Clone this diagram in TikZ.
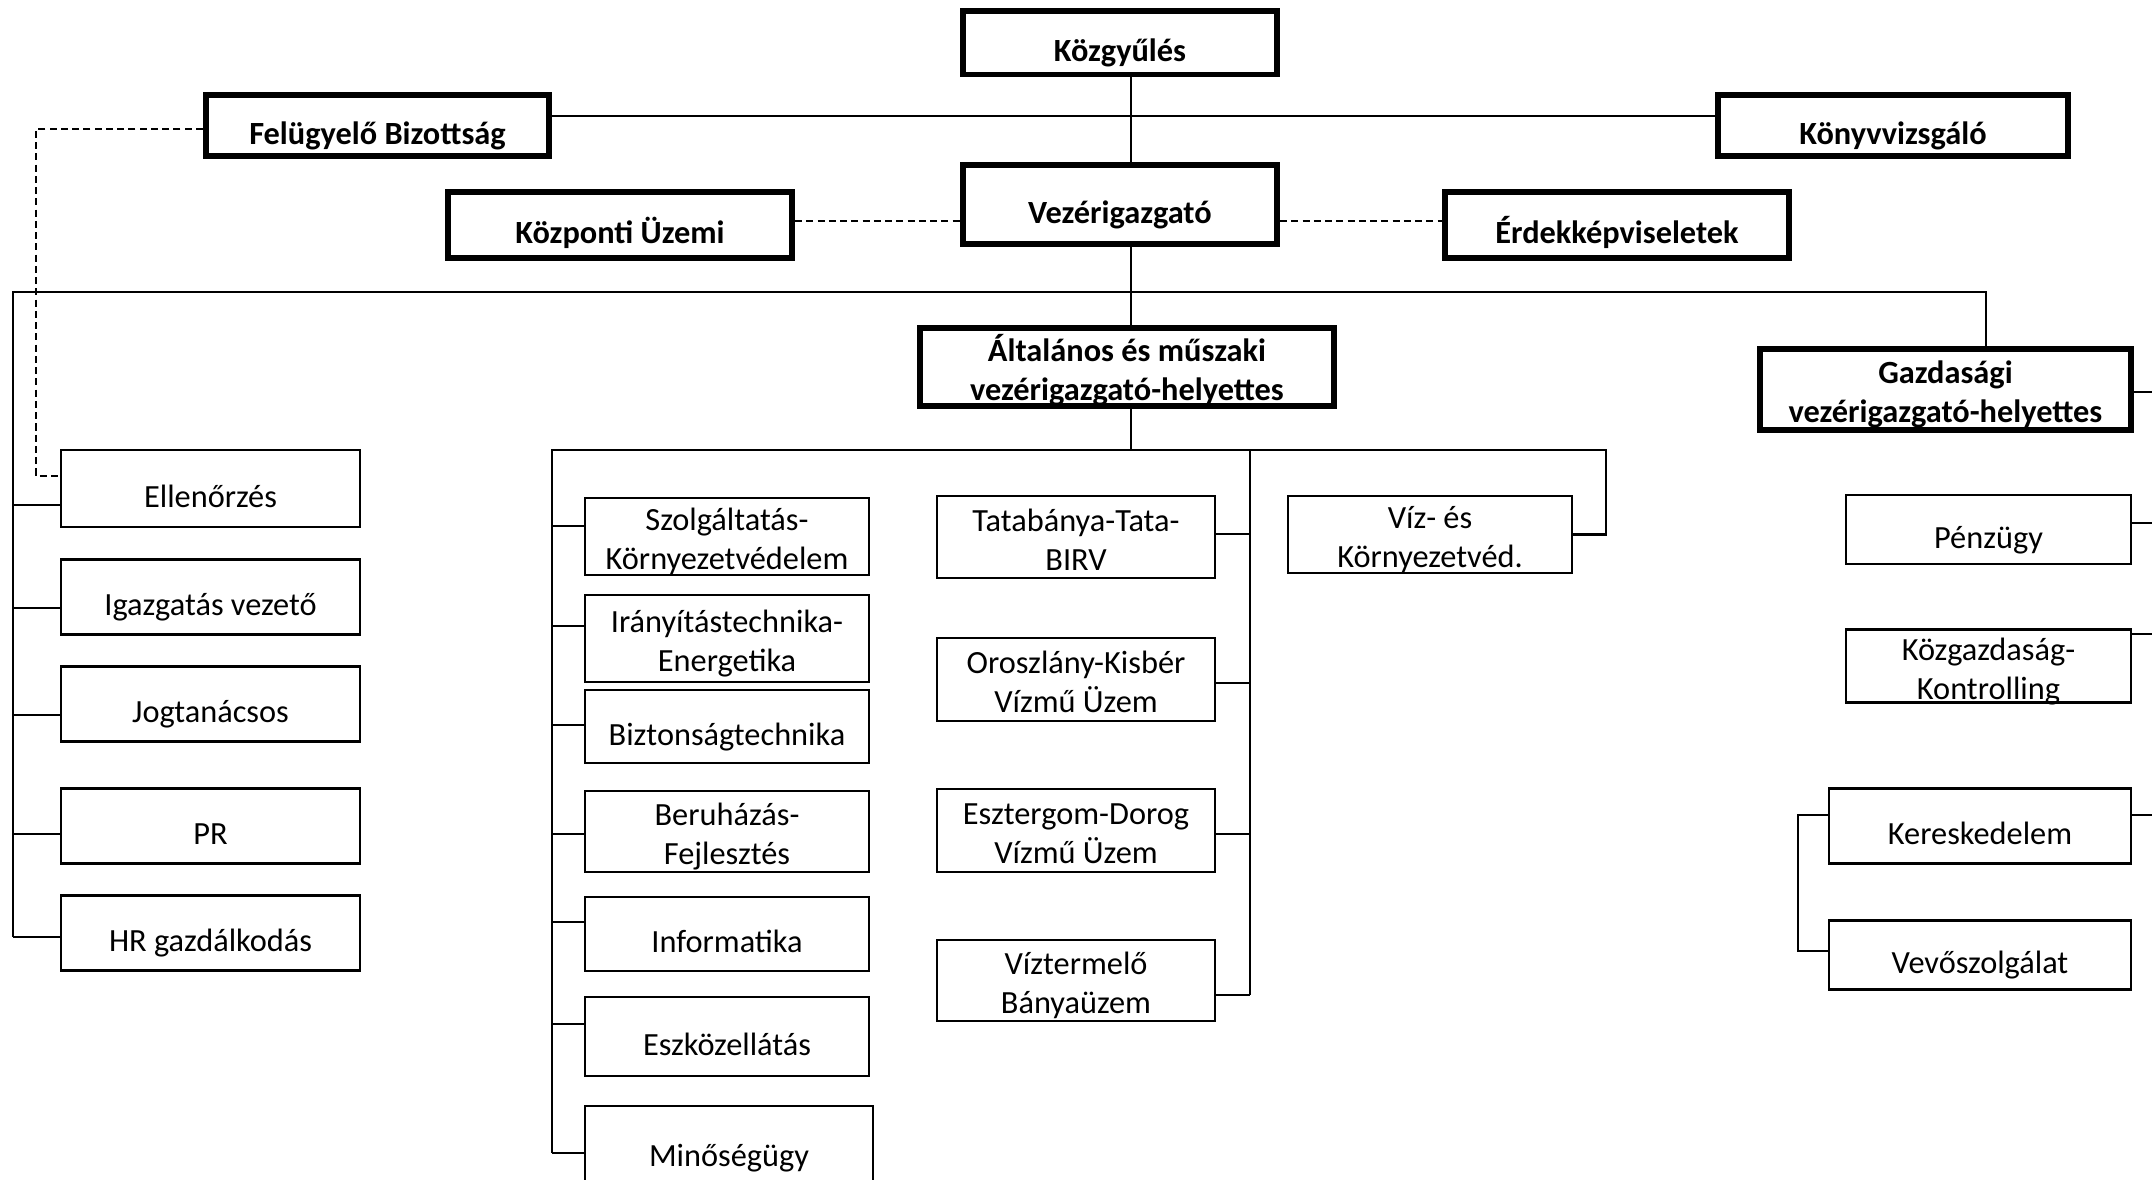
\documentclass[tikz,border=0pt]{standalone}
\usepackage{fontspec}
\setmainfont{Carlito}

\begin{document}
\begin{tikzpicture}[x=0.01cm, y=-0.01cm,
  unit/.style={draw, line width=0.6pt, align=center, inner sep=0pt,
    font=\fontsize{9.2}{11.2}\selectfont},
  head/.style={unit, line width=1.7pt, font=\bfseries\fontsize{9.2}{11.2}\selectfont},
  oneline/.style={text height=10.8pt, text depth=0pt},
  twoline/.style={text height=19pt, text depth=0pt},
  link/.style={line width=0.6pt},
  dlink/.style={link, dash pattern=on 2pt off 1.2pt}]
\useasboundingbox (0,0) rectangle (2152,1180);

% vezetes
\node[head, oneline, minimum width=3.14cm, minimum height=0.63cm] (kozgy) at (1120,43) {Közgyűlés};
\node[head, oneline, minimum width=3.43cm, minimum height=0.61cm] (fb) at (377.5,125.5) {Felügyelő Bizottság};
\node[head, oneline, minimum width=3.50cm, minimum height=0.61cm] (kv) at (1893,125.5) {Könyvvizsgáló};
\node[head, oneline, minimum width=3.14cm, minimum height=0.79cm] (vig) at (1120,204.5) {Vezérigazgató};
\node[head, oneline, minimum width=3.44cm, minimum height=0.66cm] (kuz) at (620,225) {Központi Üzemi};
\node[head, oneline, minimum width=3.44cm, minimum height=0.66cm] (erd) at (1617,225) {Érdekképviseletek};
\node[head, twoline, minimum width=4.14cm, minimum height=0.78cm] (alt) at (1127,367) {Általános és műszaki\\vezérigazgató-helyettes};
\node[head, twoline, minimum width=3.71cm, minimum height=0.81cm] (gazd) at (1945.5,389.5) {Gazdasági\\vezérigazgató-helyettes};

% bal oszlop
\node[unit, oneline, minimum width=2.99cm, minimum height=0.77cm] (ell) at (210.5,488.5) {Ellenőrzés};
\node[unit, oneline, minimum width=2.99cm, minimum height=0.75cm] (igv) at (210.5,597) {Igazgatás vezető};
\node[unit, oneline, minimum width=2.99cm, minimum height=0.75cm] (jog) at (210.5,704) {Jogtanácsos};
\node[unit, oneline, minimum width=2.99cm, minimum height=0.75cm] (pr) at (210.5,826) {PR};
\node[unit, oneline, minimum width=2.99cm, minimum height=0.75cm] (hr) at (210.5,933) {HR gazdálkodás};

% muszaki oszlop
\node[unit, twoline, minimum width=2.84cm, minimum height=0.77cm] (szolg) at (727,536.5) {Szolgáltatás-\\Környezetvédelem};
\node[unit, twoline, minimum width=2.84cm, minimum height=0.87cm] (iran) at (727,638.5) {Irányítástechnika-\\Energetika};
\node[unit, oneline, minimum width=2.84cm, minimum height=0.73cm] (bizt) at (727,726.5) {Biztonságtechnika};
\node[unit, twoline, minimum width=2.84cm, minimum height=0.81cm] (beru) at (727,831.5) {Beruházás-\\Fejlesztés};
\node[unit, oneline, minimum width=2.84cm, minimum height=0.74cm] (info) at (727,934) {Informatika};
\node[unit, oneline, minimum width=2.84cm, minimum height=0.79cm] (eszk) at (727,1036.5) {Eszközellátás};
\node[unit, oneline, minimum width=2.88cm, minimum height=0.83cm] (minos) at (729,1147.5) {Minőségügy};

% uzemek
\node[unit, twoline, minimum width=2.78cm, minimum height=0.82cm] (tata) at (1076,537) {Tatabánya-Tata-\\BIRV};
\node[unit, twoline, minimum width=2.78cm, minimum height=0.83cm] (orosz) at (1076,679.5) {Oroszlány-Kisbér\\Vízmű Üzem};
\node[unit, twoline, minimum width=2.78cm, minimum height=0.83cm] (eszt) at (1076,830.5) {Esztergom-Dorog\\Vízmű Üzem};
\node[unit, twoline, minimum width=2.78cm, minimum height=0.81cm] (vizt) at (1076,980.5) {Víztermelő\\Bányaüzem};
\node[unit, twoline, minimum width=2.84cm, minimum height=0.77cm] (vizk) at (1430,534.5) {Víz- és\\Környezetvéd.};

% gazdasagi oszlop
\node[unit, oneline, minimum width=2.85cm, minimum height=0.69cm] (penz) at (1988.5,529.5) {Pénzügy};
\node[unit, twoline, minimum width=2.85cm, minimum height=0.73cm] (kozg) at (1988.5,666) {Közgazdaság-\\Kontrolling};
\node[unit, oneline, minimum width=3.02cm, minimum height=0.75cm] (keresk) at (1980,826) {Kereskedelem};
\node[unit, oneline, minimum width=3.02cm, minimum height=0.69cm] (vevo) at (1980,955) {Vevőszolgálat};

% segedpontok
\coordinate (spine) at (1131,116);
\coordinate (dl) at (0,221);
\coordinate (fbd) at (36,476);
\coordinate (busL) at (13,292);
\coordinate (busR) at (1986,292);
\coordinate (busM) at (552,450);
\coordinate (busMR) at (1606,450);
\coordinate (busB) at (1250,450);
\coordinate (busK) at (1798,815);
\coordinate (edgeR) at (2170,0);

% felso kapcsolatok
\draw[link] (kozgy.south -| spine) -- (vig.north -| spine);
\draw[link] (fb.east |- spine) -- (kv.west |- spine);
\draw[dlink] (kuz.east |- dl) -- (vig.west |- dl);
\draw[dlink] (vig.east |- dl) -- (erd.west |- dl);
\draw[dlink] ([yshift=-1pt]fb.west) -| (fbd) -- (ell.west |- fbd);

\draw[link] (vig.south -| spine) -- (alt.north -| spine);
\draw[link] (busL |- 0,937) -- (busL) -- (busR) -- (gazd.north -| busR);
\foreach \n/\y in {ell/505, igv/608, jog/715, pr/834, hr/937}
  \draw[link] (busL |- 0,\y) -- (\n.west |- 0,\y);

% muszaki ag
\draw[link] (alt.south -| spine) -- (spine |- busM);
\draw[link] (busM |- 0,1153) -- (busM) -- (busMR) |- (vizk.east);
\foreach \n/\y in {szolg/526, iran/626, bizt/725, beru/834, info/922, eszk/1024, minos/1153}
  \draw[link] (busM |- 0,\y) -- (\n.west |- 0,\y);
\draw[link] (busB) -- (busB |- 0,995);
\foreach \n/\y in {tata/534, orosz/683, eszt/834, vizt/995}
  \draw[link] (\n.east |- 0,\y) -- (busB |- 0,\y);

% gazdasagi ag
\foreach \n/\y in {gazd/392, penz/523, kozg/634, keresk/815}
  \draw[link] (\n.east |- 0,\y) -- (edgeR |- 0,\y);
\draw[link] (keresk.west |- busK) -- (busK) |- (vevo.west |- 0,951);
\end{tikzpicture}
\end{document}
